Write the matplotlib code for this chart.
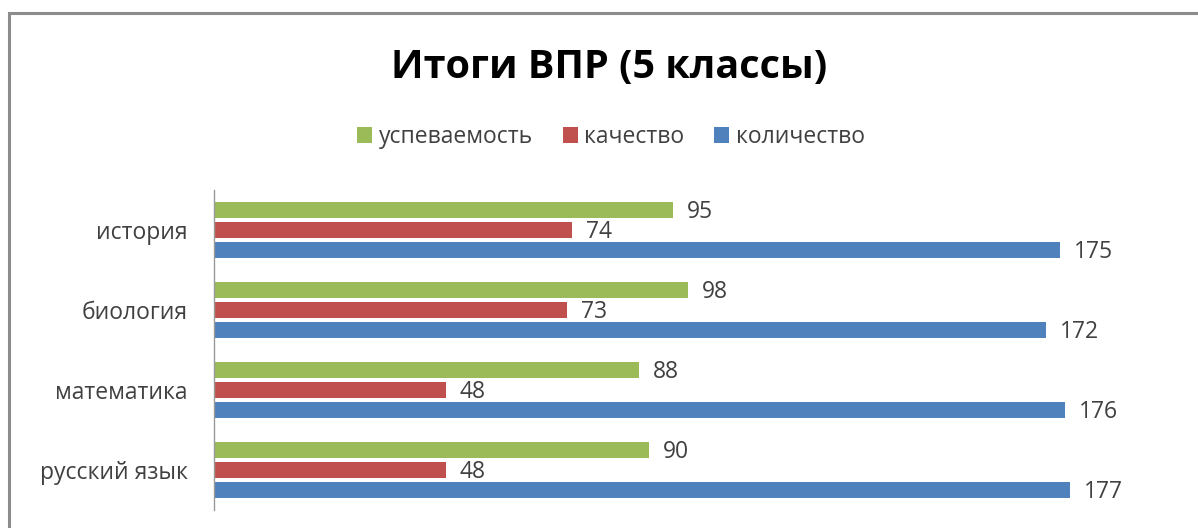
import matplotlib
matplotlib.use("Agg")
import matplotlib.pyplot as plt
from matplotlib.patches import Patch, Rectangle
import numpy as np

categories = ["русский язык", "математика", "биология", "история"]
uspevaemost = [90, 88, 98, 95]
kachestvo = [48, 48, 73, 74]
kolichestvo = [177, 176, 172, 175]
series_names = ["успеваемость", "качество", "количество"]
colors = ["#9BBB59", "#C0504D", "#4F81BD"]

FONT = ["Open Sans", "DejaVu Sans"]
plt.rcParams["font.family"] = FONT

W, H = 1198, 528
fig = plt.figure(figsize=(W / 100, H / 100), dpi=100)

# chart border (cropped on right/bottom)
fig.patches.append(Rectangle((9 / W, -0.1), 1.2, (H - 13) / H + 0.1,
                             transform=fig.transFigure, fill=False,
                             edgecolor="#8c8c8c", linewidth=2.2))

ax = fig.add_axes([214 / W, 18 / H, 967 / W, 320 / H])
y = np.arange(len(categories))
h = 0.2
step = 0.25
series = [uspevaemost, kachestvo, kolichestvo]
for i, (vals, c) in enumerate(zip(series, colors)):
    pos = y + step * (1 - i)
    ax.barh(pos, vals, height=h, color=c, label=series_names[i])
    for p, v in zip(pos, vals):
        ax.annotate(str(v), (v, p), xytext=(10, -1.5), textcoords="offset points",
                    ha="left", va="center", fontsize=16.5, color="#404040")

ax.set_xlim(0, 200)
ax.set_ylim(-0.5, len(categories) - 0.5)
ax.set_yticks(y)
ax.set_yticklabels(categories, fontsize=16.5, color="#404040")
ax.tick_params(axis="y", length=0, pad=19)
ax.set_xticks([])
for s in ["top", "right", "bottom"]:
    ax.spines[s].set_visible(False)
ax.spines["left"].set_color("#999999")
ax.spines["left"].set_linewidth(1)

fig.text(609 / W, 1 - 68 / H, "Итоги ВПР (5 классы)", ha="center", va="center",
         fontsize=28.5, fontweight="bold", color="black")

handles = [Patch(facecolor=c, edgecolor="none") for c in colors]
fig.legend(handles, series_names, loc="center", bbox_to_anchor=(611 / W, 1 - 137 / H),
           ncol=3, frameon=False, fontsize=16.5, handlelength=0.65, handleheight=0.65,
           handletextpad=0.3, columnspacing=1.3, labelcolor="#404040")

fig.savefig("out.png", dpi=100)
